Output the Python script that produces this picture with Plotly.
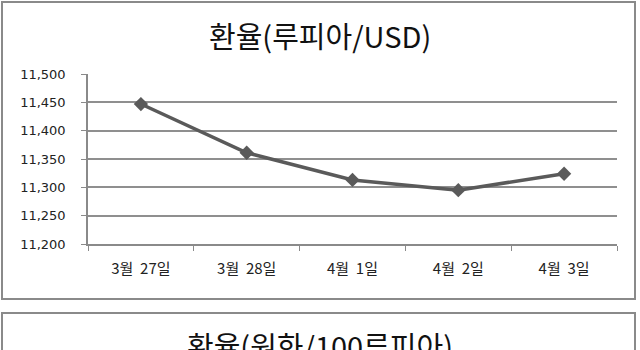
import plotly.graph_objects as go

categories = ["3월\u00a0\u00a027일", "3월\u00a0\u00a028일", "4월\u00a0\u00a01일", "4월\u00a0\u00a02일", "4월\u00a0\u00a03일"]
rates = [11447, 11361, 11313, 11295, 11324]
title1 = "환율(루피아/USD)"
title2 = "환율(원화/100루피아)"

# plot area in pixels
L, R, T, B = 88, 617, 74, 244
W, H = 640, 350

def px_x(p):
    return (p - L) / (R - L)

def px_y(p):
    return (B - p) / (B - T)

fig = go.Figure()
fig.add_trace(go.Scatter(
    x=categories, y=rates, mode="lines+markers",
    line=dict(color="#5a5a5a", width=3.5),
    marker=dict(symbol="diamond", size=11, color="#5a5a5a"),
    cliponaxis=False, showlegend=False,
))

border = "#8a8a8a"
fig.add_shape(type="rect", xref="paper", yref="paper",
              x0=px_x(2), x1=px_x(635), y0=px_y(299), y1=px_y(2),
              line=dict(color=border, width=2), layer="below")
fig.add_shape(type="rect", xref="paper", yref="paper",
              x0=px_x(2), x1=px_x(635), y0=px_y(400), y1=px_y(313),
              line=dict(color=border, width=2), layer="below")

fig.add_annotation(text=title1, xref="paper", yref="paper",
                   x=px_x(320), y=px_y(35), xanchor="center", yanchor="middle",
                   showarrow=False,
                   font=dict(family="Noto Sans CJK KR", size=29, color="#111111"))
fig.add_annotation(text=title2, xref="paper", yref="paper",
                   x=px_x(320), y=px_y(345), xanchor="center", yanchor="middle",
                   showarrow=False,
                   font=dict(family="Noto Sans CJK KR", size=29, color="#111111"))

fig.update_layout(
    width=W, height=H,
    margin=dict(l=L, r=W - R, t=T, b=H - B),
    paper_bgcolor="white", plot_bgcolor="white",
    xaxis=dict(
        type="category", tickson="boundaries", ticks="outside", ticklen=5,
        tickcolor="#8a8a8a", showline=True, linecolor="#8a8a8a", linewidth=1.5,
        showgrid=False, range=[-0.5, 4.5], ticklabelstandoff=10,
        tickfont=dict(family="Noto Sans CJK KR", size=15, color="#222222"),
    ),
    yaxis=dict(
        range=[11200, 11500], dtick=50, tickformat=",", ticks="outside",
        ticklen=5, tickcolor="#8a8a8a", showline=True, linecolor="#8a8a8a",
        linewidth=1.5, gridcolor="#8f8f8f", gridwidth=1.5, zeroline=False,
        ticklabelstandoff=13,
        tickfont=dict(family="DejaVu Sans", size=13, color="#222222"),
    ),
)

fig.write_html("out.html")
